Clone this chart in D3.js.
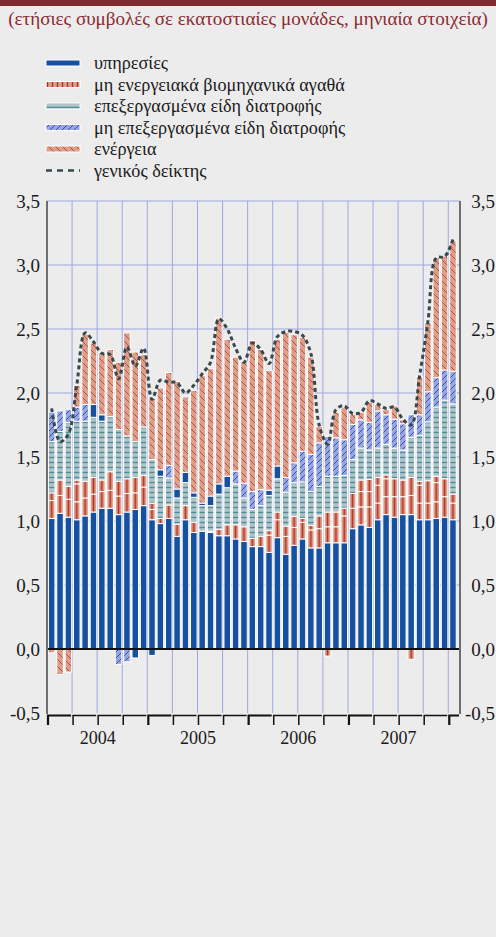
<!DOCTYPE html>
<html><head><meta charset="utf-8">
<script src="https://cdn.jsdelivr.net/npm/d3@7"></script>
<style>html,body{margin:0;padding:0;background:#ececec;} svg{display:block}</style>
</head><body>
<svg id="c" width="496" height="937"></svg>
<script>
const months = ["2004-01","2004-02","2004-03","2004-04","2004-05","2004-06","2004-07","2004-08","2004-09","2004-10","2004-11","2004-12",
"2005-01","2005-02","2005-03","2005-04","2005-05","2005-06","2005-07","2005-08","2005-09","2005-10","2005-11","2005-12",
"2006-01","2006-02","2006-03","2006-04","2006-05","2006-06","2006-07","2006-08","2006-09","2006-10","2006-11","2006-12",
"2007-01","2007-02","2007-03","2007-04","2007-05","2007-06","2007-07","2007-08","2007-09","2007-10","2007-11","2007-12","2008-01"];
const years = ["2004","2005","2006","2007"];
const yTicks = [-0.5,0,0.5,1,1.5,2,2.5,3,3.5];
const subtitle = "(ετήσιες συμβολές σε εκατοστιαίες μονάδες, μηνιαία στοιχεία)";
const seriesNames = ["υπηρεσίες","μη ενεργειακά βιομηχανικά αγαθά","επεξεργασμένα είδη διατροφής","μη επεξεργασμένα είδη διατροφής","ενέργεια","γενικός δείκτης"];

const services = [1.02,1.06,1.03,1.01,1.04,1.07,1.10,1.10,1.05,1.07,1.09,1.12,1.01,0.98,1.02,0.88,1.01,0.91,0.92,0.91,0.885,0.885,0.86,0.84,0.80,0.80,0.755,0.87,0.74,0.81,0.86,0.79,0.79,0.83,0.83,0.83,0.94,0.97,0.95,1.01,1.05,1.03,1.05,1.05,1.01,1.01,1.02,1.03,1.01];
const neig1 = [0.14,0.14,0.14,0.14,0.14,0.14,0.13,0.14,0.145,0.145,0.13,0.145,0.08,0.04,0.105,0.095,0.11,0.08,0,0.01,0.05,0.085,0.11,0.115,0.065,0.08,0.135,0.14,0.14,0.14,0.13,0.14,0.15,0.125,0.125,0.21,0.16,0.14,0.16,0.13,0.14,0.16,0.14,0.15,0.13,0.13,0.13,0.16,0.13];
const neig2 = [0.06,0.12,0.10,0.14,0.13,0.13,0.09,0.145,0.115,0.115,0.12,0.09,0.05,0,0,0,0,0,0,0,0,0,0,0,0,0,0.035,0.06,0.08,0.085,0.03,0.035,0.10,0.115,0.115,0.06,0.115,0.12,0.12,0.14,0.14,0.14,0.13,0.14,0.14,0.175,0.15,0.14,0.07];
const neig3 = [0,0,0,0.03,0,0,0,0,0,0,0,0,0,0,0,0,0,0,0,0,0,0,0,0,0,0,0,0,0,0,0,0,0,-0.055,0,0,0,0.09,0.095,0.06,0.03,0,0,-0.08,0.03,0,0.05,0,0];
const procFood = [0.40,0.38,0.50,0.46,0.47,0.47,0.46,0.43,0.405,0.335,0.28,0.38,0.34,0.33,0.21,0.205,0.18,0.195,0.20,0.20,0.275,0.29,0.32,0.225,0.225,0.24,0.275,0.26,0.265,0.265,0.285,0.265,0.23,0.28,0.28,0.255,0.265,0.25,0.23,0.23,0.24,0.24,0.235,0.315,0.36,0.46,0.54,0.615,0.705];
const unprocSolid = [0,0,0,0,0,0.10,0.05,0,0,0,-0.07,0,-0.05,0.05,0,0.07,0.08,0.035,0.02,0.075,0.08,0.09,0,0,0,0,0.04,0.10,0,0,0,0,0,0,0,0,0,0,0,0,0,0,0,0,0,0,0,0,0];
const unprocFood = [0.23,0.16,0.10,0.11,0.13,0,0,-0.01,-0.12,-0.10,0,0,0,0,0.10,0,0,0,0,0,0,0,0.10,0.115,0.14,0.125,0,0,0.115,0.155,0.24,0.29,0.34,0.31,0.30,0.28,0.275,0.22,0.215,0.29,0.23,0.225,0.205,0.175,0.16,0.235,0.23,0.235,0.255];
const energy = [-0.03,-0.20,-0.18,0.17,0.55,0.48,0.485,0.525,0.525,0.805,0.70,0.565,0.48,0.64,0.725,0.84,0.59,0.80,0.995,0.995,1.295,1.07,0.89,0.95,1.18,1.095,0.935,0.99,1.135,1.00,0.89,0.76,0.13,0,0.20,0.255,0.08,0.06,0.16,0.05,0.04,0.105,0.03,0,0.30,0.54,0.94,0.89,1.02];
const hicp = [1.88,1.62,1.68,2.06,2.47,2.40,2.31,2.30,2.11,2.36,2.21,2.35,1.95,2.10,2.085,2.08,2.00,2.06,2.15,2.24,2.58,2.50,2.35,2.24,2.39,2.34,2.23,2.44,2.48,2.48,2.45,2.31,1.75,1.60,1.87,1.90,1.84,1.85,1.94,1.915,1.88,1.89,1.795,1.75,2.13,2.555,3.055,3.065,3.20];

const W = 496, H = 937;
const serif = '"Liberation Serif"';
const svg = d3.select('#c');
svg.append('rect').attr('width', W).attr('height', H).attr('fill', '#ececec');
svg.append('rect').attr('width', W).attr('height', 6).attr('fill', '#7e2a2f');
const sub = svg.append('text').attr('x', 248).attr('y', 25).attr('text-anchor', 'middle')
  .style('font-family', serif).style('font-size', '17px').attr('fill', '#8b2b31').text(subtitle);
const subW = sub.node().getComputedTextLength();
sub.style('font-size', (17 * 480 / subW).toFixed(2) + 'px');

const x = d3.scaleBand().domain(months).range([47.5, 47.5 + 49 * 8.36]).paddingInner(0.22).paddingOuter(0.11);
const step = x.step();
const y = d3.scaleLinear().domain([-0.5, 3.5]).range([713, 201]);
const left = 47, right = 460;

const defs = svg.append('defs');
function pattern(id, w, h, bg, fn, x0) {
  const p = defs.append('pattern').attr('id', id).attr('patternUnits', 'userSpaceOnUse')
    .attr('width', w).attr('height', h).attr('x', x0 || 0).attr('y', 0);
  p.append('rect').attr('width', w).attr('height', h).attr('fill', bg);
  fn(p);
}
const x0 = x.range()[0];
pattern('neigBar', step, 4, '#dc9f8c', p => p.append('line').attr('x1', step * 0.5).attr('x2', step * 0.5).attr('y1', 0).attr('y2', 4).attr('stroke', '#b5301f').attr('stroke-width', 1.6), x0);
pattern('neigLeg', 5, 4, '#dc9f8c', p => p.append('line').attr('x1', 2.5).attr('x2', 2.5).attr('y1', 0).attr('y2', 4).attr('stroke', '#b5301f').attr('stroke-width', 1.4));
pattern('proc', 4, 5, '#afc4ca', p => p.append('line').attr('x1', 0).attr('x2', 4).attr('y1', 2.5).attr('y2', 2.5).attr('stroke', '#4f8d98').attr('stroke-width', 1.4));
pattern('unproc', 6, 6, '#98a6df', p => p.append('path').attr('d', 'M0,6L6,0M-1,1L1,-1M5,7L7,5').attr('stroke', '#3451b5').attr('stroke-width', 1));
pattern('energy', 7, 7, '#dd9e8a', p => p.append('path').attr('d', 'M0,0L7,7M-1,6L1,8M6,-1L8,1').attr('stroke', '#b4473a').attr('stroke-width', 0.9));

// grid
const g = svg.append('g');
yTicks.filter(v => v !== 0 && v !== -0.5).forEach(v => {
  g.append('line').attr('x1', left).attr('x2', right).attr('y1', y(v)).attr('y2', y(v)).attr('stroke', '#9ca7e3').attr('stroke-width', 1);
});
d3.range(3, 49, 3).forEach(i => {
  const xx = x0 + i * step - 0.5;
  g.append('line').attr('x1', xx).attr('x2', xx).attr('y1', y(3.5)).attr('y2', y(-0.5)).attr('stroke', '#9ca7e3').attr('stroke-width', 1);
});

// stacked bars
const keys = ['services', 'neig1', 'neig2', 'neig3', 'procFood', 'unprocSolid', 'unprocFood', 'energy'];
const fills = { services: '#1650a0', neig1: 'url(#neigBar)', neig2: 'url(#neigBar)', neig3: 'url(#neigBar)', procFood: 'url(#proc)', unprocSolid: '#1650a0', unprocFood: 'url(#unproc)', energy: 'url(#energy)' };
const src = { services, neig1, neig2, neig3, procFood, unprocSolid, unprocFood, energy };
const table = months.map((m, i) => { const r = { month: m }; keys.forEach(k => r[k] = src[k][i]); return r; });
const stack = d3.stack().keys(keys).offset(d3.stackOffsetDiverging)(table);
const bars = svg.append('g');
stack.forEach(layer => {
  bars.selectAll(null).data(layer.filter(d => Math.abs(d[1] - d[0]) > 1e-9)).join('rect')
    .attr('x', d => x(d.data.month))
    .attr('width', x.bandwidth())
    .attr('y', d => y(Math.max(d[0], d[1])))
    .attr('height', d => Math.abs(y(d[0]) - y(d[1])))
    .attr('fill', fills[layer.key])
    .attr('stroke', '#ffffff').attr('stroke-width', 1);
});

// zero line & axes
svg.append('line').attr('x1', left).attr('x2', right + 1).attr('y1', y(0)).attr('y2', y(0)).attr('stroke', '#111').attr('stroke-width', 2);
svg.append('line').attr('x1', left).attr('x2', left).attr('y1', y(3.5)).attr('y2', y(-0.5) + 1).attr('stroke', '#6e6e6e').attr('stroke-width', 2);
svg.append('line').attr('x1', right).attr('x2', right).attr('y1', y(3.5)).attr('y2', y(-0.5) + 1).attr('stroke', '#6e6e6e').attr('stroke-width', 2);

const loc = d3.formatLocale({ decimal: ',', thousands: '.', grouping: [3], currency: ['', '€'], minus: '-' });
const fmt = loc.format('.1f');
const ax1 = svg.append('g').attr('transform', `translate(${left},0)`).call(d3.axisLeft(y).tickValues(yTicks).tickSize(0).tickPadding(7).tickFormat(fmt));
const ax2 = svg.append('g').attr('transform', `translate(${right},0)`).call(d3.axisRight(y).tickValues(yTicks).tickSize(0).tickPadding(35).tickFormat(fmt));
[ax1, ax2].forEach(a => { a.attr('font-family', null).attr('font-size', null); a.select('.domain').remove(); a.selectAll('text').style('font-family', serif).style('font-size', '19px').attr('fill', '#1a1a1a'); });
ax2.selectAll('text').attr('text-anchor', 'end');

// bracket x-axis
const xb = svg.append('g');
d3.range(0, 49, 3).forEach(i => {
  const xs = x0 + i * step + 0.5;
  const xe = i === 48 ? right - 1 : xs + 3 * step - 2;
  xb.append('path').attr('d', `M${xs},${y(-0.5) + 12}V${y(-0.5) + 2.5}H${xe}`).attr('fill', 'none')
    .attr('stroke', '#111').attr('stroke-width', i % 12 === 0 ? 2.2 : 1.5);
});
years.forEach((yr, k) => {
  svg.append('text').attr('x', x0 + (k * 12 + 6) * step).attr('y', 744).attr('text-anchor', 'middle')
    .style('font-family', serif).style('font-size', '18px').attr('fill', '#1a1a1a').text(yr);
});

// hicp line
const line = d3.line().x((d, i) => x(months[i]) + x.bandwidth() / 2).y(d => y(d)).curve(d3.curveCatmullRom.alpha(0.5));
svg.append('path').attr('d', line(hicp)).attr('fill', 'none').attr('stroke', '#37494d').attr('stroke-width', 3).attr('stroke-dasharray', '4,3');

// legend
const legFills = ['#1650a0', 'url(#neigLeg)', 'url(#proc)', 'url(#unproc)', 'url(#energy)'];
const leg = svg.append('g');
const legTexts = [];
seriesNames.forEach((n, i) => {
  const cy = 63 + i * 21.5;
  if (i < 5) {
    leg.append('rect').attr('x', 46).attr('y', cy - 3).attr('width', 34).attr('height', 6).attr('fill', legFills[i]).attr('stroke', '#fff').attr('stroke-width', 1);
  } else {
    leg.append('line').attr('x1', 46).attr('x2', 80).attr('y1', cy).attr('y2', cy).attr('stroke', '#37494d').attr('stroke-width', 2.5).attr('stroke-dasharray', '6,5');
  }
  legTexts.push(leg.append('text').attr('x', 94).attr('y', cy).attr('dy', '0.35em').style('font-family', serif).style('font-size', '17px').attr('fill', '#1a1a1a').text(n));
});
const lw = legTexts[1].node().getComputedTextLength();
const lfs = (17 * 251 / lw).toFixed(2) + 'px';
legTexts.forEach(t => t.style('font-size', lfs));
</script>
</body></html>
